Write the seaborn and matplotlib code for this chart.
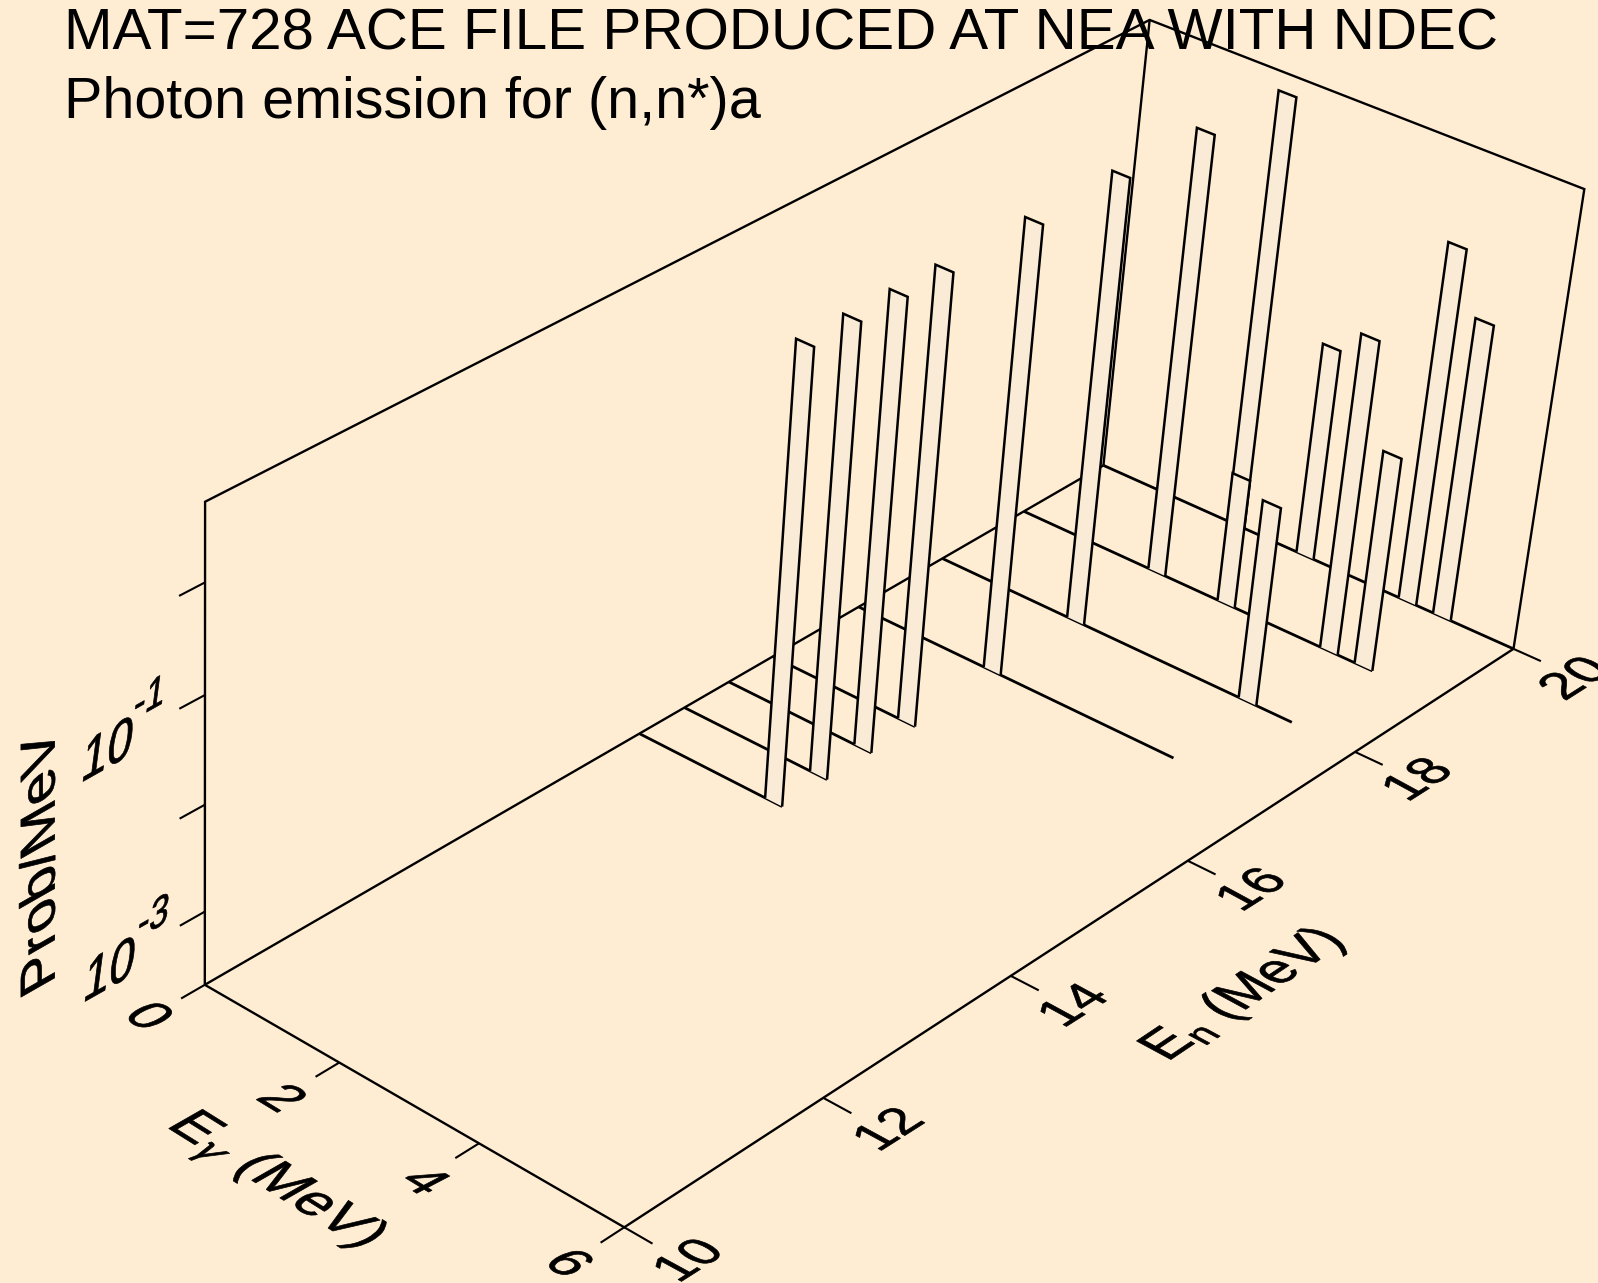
import numpy as np
import matplotlib
matplotlib.use("Agg")
import matplotlib.pyplot as plt
import matplotlib.patheffects as pe
from matplotlib.transforms import Affine2D
import seaborn as sns

# incident neutron energies that have a spectrum, back to front
en_lines = [20.0, 19.0, 18.0, 17.0, 16.0, 15.5, 15.0, 14.5]
line_ends = [6.0, 5.12, 5.12, 4.62, 2.13, 2.13, 2.13, 2.13]

# histogram bins that rise off the floor
bar_en = [20.0, 20.0, 20.0, 20.0, 19.0, 19.0, 19.0, 19.0, 18.0, 18.0, 17.0, 16.0, 15.5, 15.0, 14.5]
bar_lo = [1.88, 2.90, 4.38, 4.87, 1.88, 2.90, 4.38, 4.87, 1.88, 4.37, 1.88, 1.88, 1.88, 1.88, 1.88]
bar_hi = [2.13, 3.15, 4.63, 5.12, 2.13, 3.15, 4.63, 5.12, 2.13, 4.62, 2.13, 2.13, 2.13, 2.13, 2.13]
bar_log_prob = [0.52, -1.62, -0.23, -0.81, 0.58, -2.43, -0.65, -1.62, 0.60, -1.77, 0.60, 0.60, 0.60, 0.60, 0.60]

egam_ticks = [0, 2, 4, 6]
en_ticks = [10, 12, 14, 16, 18, 20]
z_ticks = [-3, -2, -1, 0]
z_min, z_max = -3.7, 0.7

title_lines = ["MAT=728 ACE FILE PRODUCED AT NEA WITH NDEC", "Photon emission for (n,n*)a"]

BG = "#FFEDD3"
BAR = "#FAEBD7"
W, H = 1598, 1283
DPI = 100

# camera calibration: data corner -> pixel, solved for a perspective matrix
cam_data = [(0, 10, z_min), (6, 10, z_min), (6, 20, z_min), (0, 20, z_min), (0, 10, z_max), (0, 20, z_max),
            (6, 20, z_max), (2, 10, z_min), (4, 10, z_min), (6, 12, z_min), (6, 14, z_min), (6, 16, z_min),
            (6, 18, z_min), (0, 10, -3), (0, 10, -2), (0, 10, -1), (0, 10, 0)]
cam_px = [(205, 985), (624, 1227), (1513, 649), (1103, 465), (205, 501), (1150, 20),
          (1584, 189), (339, 1062), (479, 1143), (823, 1098), (1011, 976), (1188, 861),
          (1356, 752), (205, 912), (205, 805), (205, 695), (205, 583)]


def fit_camera():
    rows, rhs = [], []
    for (X, Y, Z), (u, v) in zip(cam_data, cam_px):
        rows.append([X, Y, Z, 1, 0, 0, 0, 0, -u * X, -u * Y, -u * Z])
        rhs.append(u)
        rows.append([0, 0, 0, 0, X, Y, Z, 1, -v * X, -v * Y, -v * Z])
        rhs.append(v)
    p = np.linalg.lstsq(np.array(rows, float), np.array(rhs, float), rcond=None)[0]
    return np.append(p, 1.0).reshape(3, 4)


CAM = fit_camera()


def proj(eg, en, z=z_min):
    eg, en, z = np.atleast_1d(eg, en, z)
    eg, en, z = np.broadcast_arrays(eg, en, z)
    pts = np.column_stack([eg, en, z, np.ones(len(eg))])
    q = pts @ CAM.T
    return q[:, 0] / q[:, 2], q[:, 1] / q[:, 2]


class Skew(pe.AbstractPathEffect):
    # keeps the text real but lays it on the plane of the 3d box
    def __init__(self, u, v, anchor, em):
        super().__init__()
        self.s = Affine2D.from_values(u[0] / em, -u[1] / em, v[0] / em, -v[1] / em, 0, 0)
        self.ax_ = anchor[0]
        self.ay_ = H - anchor[1]

    def draw_path(self, renderer, gc, tpath, affine, rgbFace=None):
        t = affine + Affine2D().translate(-self.ax_, -self.ay_) + self.s + Affine2D().translate(self.ax_, self.ay_)
        gc.set_linewidth(0.5)
        gc.set_foreground("black")
        renderer.draw_path(gc, tpath, t, rgbFace)


def skew_text(ax, x, y, s, u, v, size=40):
    em = size * DPI / 72
    t = ax.text(x, y, s, ha="center", va="center_baseline", fontsize=size, color="black", zorder=500)
    t.set_path_effects([Skew(u, v, (x, y), em)])
    return t


def line3d(ax, eg, en, z, zorder, lw=1.5):
    px, py = proj(eg, en, z)
    sns.lineplot(x=px, y=py, sort=False, estimator=None, color="black", linewidth=lw,
                 solid_joinstyle="miter", solid_capstyle="butt", zorder=zorder, ax=ax)


def main():
    sns.set_theme(style="white", rc={"axes.facecolor": BG, "figure.facecolor": BG})
    plt.rcParams["font.family"] = ["Liberation Sans", "DejaVu Sans"]
    plt.rcParams["mathtext.default"] = "regular"

    fig = plt.figure(figsize=(W / DPI, H / DPI), dpi=DPI)
    ax = fig.add_axes([0, 0, 1, 1])
    ax.set_xlim(0, W)
    ax.set_ylim(H, 0)

    # box
    line3d(ax, [0, 0, 0, 6, 6], [10, 10, 20, 20, 20], [z_min, z_max, z_max, z_max, z_min], 1, 1.7)
    line3d(ax, [0, 0], [20, 20], [z_min, z_max], 1, 1.7)
    line3d(ax, [0, 0], [10, 20], [z_min, z_min], 1, 1.7)
    line3d(ax, [0, 6, 6], [10, 10, 20], [z_min, z_min, z_min], 1, 1.7)

    # ticks
    for e in egam_ticks:
        line3d(ax, [e, e], [10, 9.77], [z_min, z_min], 2, 1.5)
    for e in en_ticks:
        line3d(ax, [6, 6.38], [e, e], [z_min, z_min], 2, 1.5)
    for z in z_ticks:
        line3d(ax, [0, 0], [10, 9.76], [z, z], 2, 1.5)

    # spectra, painted from the back
    order = 10
    for en, end in zip(en_lines, line_ends):
        line3d(ax, [0, end], [en, en], [z_min, z_min], order, 2.0)
        order += 1
        for b_en, lo, hi, lp in zip(bar_en, bar_lo, bar_hi, bar_log_prob):
            if b_en != en:
                continue
            px, py = proj([lo, lo, hi, hi], en, [z_min, lp, lp, z_min])
            ax.fill(px, py, color=BAR, zorder=order, linewidth=0)
            line3d(ax, [lo, lo, hi, hi], [en] * 4, [z_min, lp, lp, z_min], order + 1, 1.8)
            order += 2

    # title, flat on the page
    ax.text(64, 49, title_lines[0], fontsize=42, ha="left", va="baseline", color="black", zorder=600)
    ax.text(64, 118, title_lines[1], fontsize=41.4, ha="left", va="baseline", color="black", zorder=600)

    # tick and axis labels lie on the planes of the box
    u_g, v_g = (46, 28), (48, -25)
    for lab, c in zip(egam_ticks, [(151, 1015), (284, 1097), (427, 1180), (571, 1262)]):
        skew_text(ax, c[0], c[1], str(lab), u_g, v_g)
    skew_text(ax, 281, 1177, r"E$_{\mathit{\gamma}}$ (MeV)", (48, 30), (49, -28))

    u_n, v_n = (44, -28), (-46, -25)
    for lab, c in zip(en_ticks, [(686, 1259), (886, 1128), (1071, 1004), (1249, 888), (1415, 778), (1572, 677)]):
        skew_text(ax, c[0], c[1], str(lab), u_n, v_n)
    skew_text(ax, 1238, 992, r"E$_{n}$ (MeV)", (44, -29.5), (-50, -27))

    u_z, v_z = (46, -26), (8, -61)
    small = (u_z[0] * 0.75, u_z[1] * 0.75)
    small_v = (v_z[0] * 0.75, v_z[1] * 0.75)
    skew_text(ax, 108, 747, "10", u_z, v_z)
    skew_text(ax, 150, 695, "-1", small, small_v)
    skew_text(ax, 110, 967, "10", u_z, v_z)
    skew_text(ax, 154, 914, "-3", small, small_v)
    skew_text(ax, 37, 864, "Prob/MeV", (0, -58), (-49, 28))

    ax.set_xlim(0, W)
    ax.set_ylim(H, 0)
    ax.set_axis_off()
    fig.savefig("out.png", dpi=DPI, facecolor=BG)


if __name__ == "__main__":
    main()
